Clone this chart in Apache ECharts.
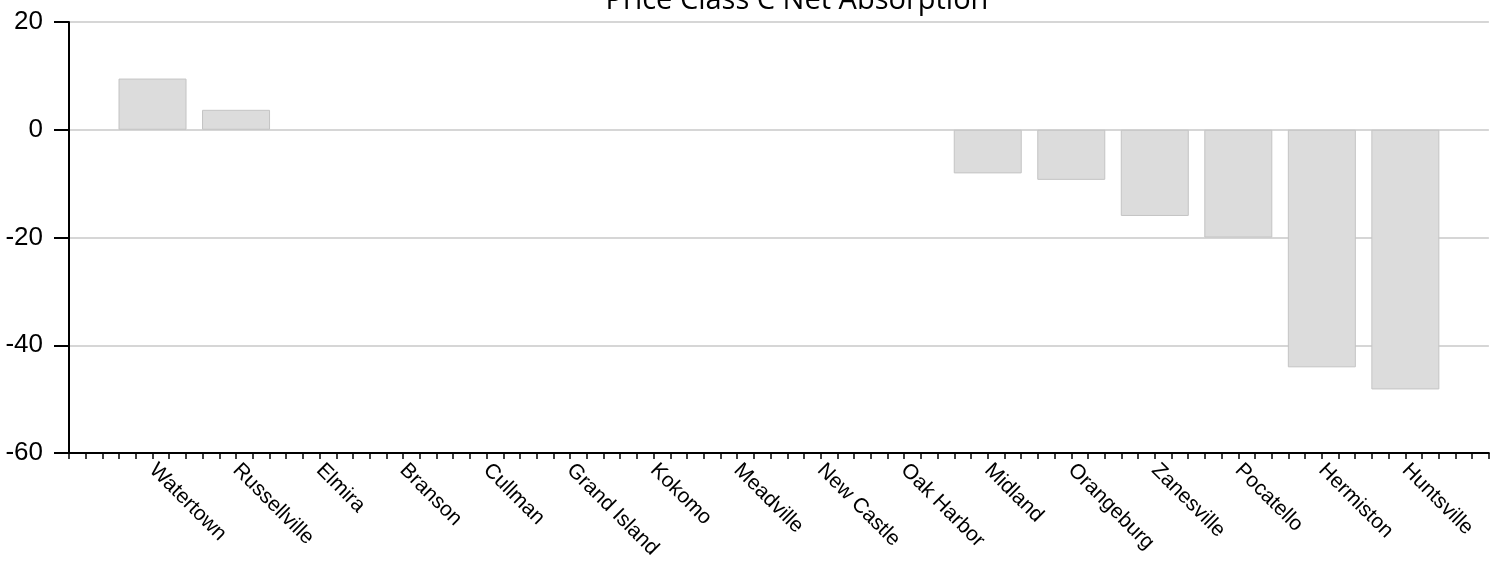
<!DOCTYPE html>
<html><head><meta charset="utf-8">
<script src="https://cdn.jsdelivr.net/npm/echarts@6/dist/echarts.min.js"></script>
<style>html,body{margin:0;padding:0;background:#fff}#c{width:1491px;height:563px}</style>
</head><body><div id="c"></div>
<script>
const titleText = 'Price Class C Net Absorption';
const cities = ['Watertown','Russellville','Elmira','Branson','Cullman','Grand Island','Kokomo','Meadville','New Castle','Oak Harbor','Midland','Orangeburg','Zanesville','Pocatello','Hermiston','Huntsville'];
const values = [9.5, 3.7, 0, 0, 0, 0, 0, 0, 0, 0, -8.1, -9.3, -16.0, -20.0, -44.1, -48.2];
const yTicks = [-60, -40, -20, 0, 20];

const chart = echarts.init(document.getElementById('c'), null, {renderer:'canvas'});
chart.setOption({
  animation: false,
  graphic: [{type:'text', x: 797, y: -14, style:{text:titleText, font:'29px "Open Sans"', fill:'#000', align:'center', verticalAlign:'top'}}],
  grid: {left: 69, right: 0, top: 22, bottom: 110, containLabel: false},
  xAxis: {
    type: 'value', min: 0, max: cities.length + 1, interval: 1,
    splitLine: {show: false},
    axisLine: {show: true, onZero: false, lineStyle: {color: '#000', width: 2}},
    axisTick: {show: true, length: 6, lineStyle: {color: '#000', width: 1.5}},
    minorTick: {show: true, splitNumber: 5, length: 6, lineStyle: {color: '#000', width: 1.5}},
    axisLabel: {
      rotate: -45, margin: 14, fontFamily: 'Liberation Sans, Arial', fontSize: 21, color: '#000',
      formatter: v => cities[v - 1] || ''
    }
  },
  yAxis: {
    type: 'value', min: yTicks[0], max: yTicks[yTicks.length - 1], interval: 20,
    axisLine: {show: true, lineStyle: {color: '#000', width: 2}},
    axisTick: {show: true, length: 15, lineStyle: {color: '#000', width: 2}},
    axisLabel: {margin: 26, fontFamily: 'Liberation Sans, Arial', fontSize: 26, color: '#000'},
    splitLine: {show: true, lineStyle: {color: '#d6d6d6', width: 2}}
  },
  series: [{
    type: 'bar',
    data: values.map((v, i) => ({value: [i + 1, v], itemStyle: v === 0 ? {borderWidth: 0} : undefined})),
    barWidth: 68,
    itemStyle: {color: '#dcdcdc', borderColor: '#c4c4c4', borderWidth: 1}
  }]
});
</script></body></html>
